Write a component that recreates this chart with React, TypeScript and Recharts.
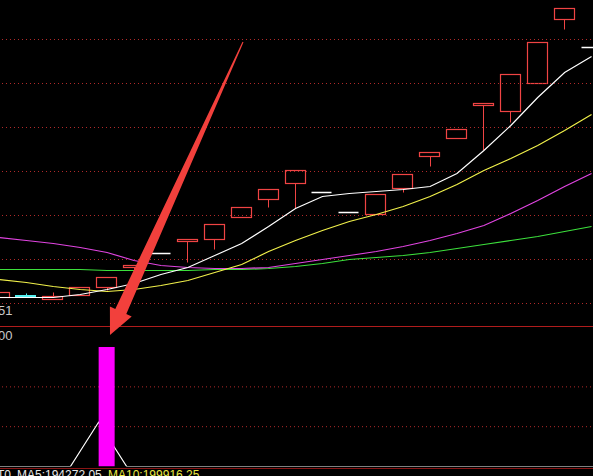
import React from 'react';
import { ComposedChart, Bar, Line, XAxis, YAxis, ReferenceLine } from 'recharts';

// Trading days shown in the window
const days = [
  '02-18', '02-19', '02-20', '02-21', '02-22', '02-25', '02-26', '02-27', '02-28', '03-01',
  '03-04', '03-05', '03-06', '03-07', '03-08', '03-11', '03-12', '03-13', '03-14', '03-15',
  '03-18', '03-19', '03-20',
];

// Daily prices
const opens = [10.57, 10.59, 10.55, 10.59, 10.67, 10.87, 11.01, 11.13, 11.15, 11.37, 11.55, 11.71, 11.62, 11.42, 11.40, 11.66, 11.98, 12.16, 12.49, 12.43, 12.71, 13.35, 13.07];
const closes = [10.62, 10.57, 10.58, 10.67, 10.77, 10.89, 11.01, 11.15, 11.30, 11.47, 11.65, 11.84, 11.62, 11.42, 11.60, 11.80, 12.02, 12.25, 12.51, 12.80, 13.12, 13.46, 13.07];
const highs = [10.62, 10.61, 10.62, 10.67, 10.77, 10.89, 11.01, 11.15, 11.30, 11.47, 11.65, 11.84, 11.62, 11.42, 11.60, 11.80, 12.02, 12.25, 12.51, 12.80, 13.12, 13.46, 13.07];
const lows = [10.57, 10.57, 10.55, 10.59, 10.64, 10.84, 11.01, 10.92, 11.05, 11.37, 11.47, 11.46, 11.62, 11.42, 11.40, 11.62, 11.88, 12.16, 12.04, 12.32, 12.71, 13.25, 13.07];

// Moving averages
const ma5 = [10.57, 10.57, 10.57, 10.60, 10.65, 10.71, 10.80, 10.87, 10.99, 11.11, 11.28, 11.46, 11.58, 11.61, 11.63, 11.65, 11.68, 11.81, 12.04, 12.29, 12.57, 12.82, 12.98];
const ma10 = [10.75, 10.72, 10.68, 10.65, 10.63, 10.65, 10.69, 10.74, 10.82, 10.90, 11.03, 11.14, 11.24, 11.33, 11.40, 11.48, 11.58, 11.70, 11.84, 11.96, 12.09, 12.24, 12.40];
const ma20 = [11.17, 11.14, 11.11, 11.07, 11.02, 10.94, 10.89, 10.87, 10.86, 10.86, 10.87, 10.91, 10.95, 10.99, 11.03, 11.08, 11.14, 11.21, 11.29, 11.41, 11.54, 11.68, 11.81];
const ma60 = [10.85, 10.85, 10.85, 10.85, 10.84, 10.84, 10.84, 10.84, 10.85, 10.85, 10.86, 10.88, 10.91, 10.95, 10.97, 10.99, 11.02, 11.06, 11.10, 11.14, 11.18, 11.23, 11.28];

// Indicator pane
const signal = [0, 0, 0, 0, 100, 0, 0, 0, 0, 0, 0, 0, 0, 0, 0, 0, 0, 0, 0, 0, 0, 0, 0];
const signalTrend = [0, 0, 0, 0, 37, 0, 0, 0, 0, 0, 0, 0, 0, 0, 0, 0, 0, 0, 0, 0, 0, 0, 0];

// Axis settings and labels
const priceDomain = [10.28, 13.54];
const priceGrid = [13.15, 12.71, 12.27, 11.83, 11.39, 10.95, 10.51];
const priceLabel = '10.51';
const signalDomain = [0, 117.2];
const signalGrid = [33.33, 66.67];
const signalLabel = '100.00';
const volumeHead = 'T0';
const volumeMa5 = 'MA5:194272.05';
const volumeMa10 = 'MA10:199916.25';

const rows = days.map((day, i) => ({
  day,
  open: opens[i],
  close: closes[i],
  high: highs[i],
  low: lows[i],
  ma5: ma5[i],
  ma10: ma10[i],
  ma20: ma20[i],
  ma60: ma60[i],
  signal: signal[i],
  signalTrend: signalTrend[i],
}));

const UP = '#f04444';
const DOWN = '#54f0f0';
const GRID = '#b02a2a';

function Candle(props: any) {
  const { x, y, width, height, payload } = props;
  if (x == null || y == null || !payload) return null;
  const { open, close, high, low } = payload;
  const span = high - low;
  const py = (v: number) => (span > 0 ? y + ((high - v) / span) * height : y);
  const left = Math.floor(x) + 0.5;
  const right = Math.floor(x + width) - 0.5;
  const cx = Math.floor(x + width / 2) + 0.5;
  const yHigh = py(high);
  const yLow = py(low);
  if (open === close) {
    const yc = py(close);
    return (
      <g>
        {yLow - yHigh > 0 && <line x1={cx} x2={cx} y1={yHigh} y2={yLow} stroke="#ffffff" />}
        <line x1={left} x2={right} y1={yc} y2={yc} stroke="#ffffff" strokeWidth={1.5} />
      </g>
    );
  }
  const top = py(Math.max(open, close));
  const bottom = py(Math.min(open, close));
  const color = close > open ? UP : DOWN;
  return (
    <g>
      {top > yHigh && <line x1={cx} x2={cx} y1={yHigh} y2={top} stroke={color} />}
      {yLow > bottom && <line x1={cx} x2={cx} y1={bottom} y2={yLow} stroke={color} />}
      {close > open ? (
        <rect x={left} y={top} width={right - left} height={Math.max(bottom - top, 1)} fill="none" stroke={color} strokeWidth={1.2} />
      ) : (
        <rect x={left - 0.5} y={top - 0.5} width={right - left + 1} height={Math.max(bottom - top, 1) + 1} fill={color} />
      )}
    </g>
  );
}

// Pointer annotation: tapered shaft with a head
function Pointer() {
  const pts = [
    [242.5, 41.8],
    [243.5, 42.2],
    [126.3, 313.9],
    [131.7, 316.4],
    [110, 335],
    [109.9, 306.4],
    [115.3, 308.9],
  ];
  return <polygon points={pts.map((p) => p.join(',')).join(' ')} fill="#f2403c" />;
}

const chartLeft = -14;
const chartWidth = 619;
const paneMargin = { top: 2.5, right: 0, bottom: 0, left: 0 };

export default function App() {
  return (
    <div
      style={{
        position: 'absolute',
        left: 0,
        top: 0,
        width: 593,
        height: 476,
        background: '#000000',
        overflow: 'hidden',
      }}
    >
      {/* Price pane */}
      <div style={{ position: 'absolute', left: chartLeft, top: 0 }}>
        <ComposedChart width={chartWidth} height={327} data={rows} margin={{ top: 0.5, right: 0, bottom: 0.5, left: 0 }}>
          <XAxis dataKey="day" type="category" hide />
          <YAxis type="number" domain={priceDomain} allowDataOverflow hide />
          {priceGrid.map((v) => (
            <ReferenceLine key={v} y={v} stroke={GRID} strokeDasharray="1 3" />
          ))}
          <Bar
            dataKey={(d: any) => [d.low, d.high]}
            barSize={21}
            shape={(p: any) => <Candle {...p} />}
            isAnimationActive={false}
          />
          <Line type="linear" dataKey="ma60" stroke="#3ce03c" strokeWidth={1.2} dot={false} isAnimationActive={false} />
          <Line type="linear" dataKey="ma20" stroke="#e044e0" strokeWidth={1.2} dot={false} isAnimationActive={false} />
          <Line type="linear" dataKey="ma10" stroke="#f0f04a" strokeWidth={1.2} dot={false} isAnimationActive={false} />
          <Line type="linear" dataKey="ma5" stroke="#ffffff" strokeWidth={1.2} dot={false} isAnimationActive={false} />
        </ComposedChart>
      </div>
      {/* Indicator pane: trend line underneath, signal column on top */}
      <div style={{ position: 'absolute', left: chartLeft, top: 324 }}>
        <ComposedChart width={chartWidth} height={142.5} data={rows} margin={paneMargin}>
          <XAxis dataKey="day" type="category" hide />
          <YAxis type="number" domain={signalDomain} allowDataOverflow hide />
          <ReferenceLine y={signalDomain[1]} stroke="#b01c1c" />
          {signalGrid.map((v) => (
            <ReferenceLine key={v} y={v} stroke={GRID} strokeDasharray="1 3" />
          ))}
          <Line type="linear" dataKey="signalTrend" stroke="#ffffff" strokeWidth={1.2} dot={false} isAnimationActive={false} />
        </ComposedChart>
      </div>
      <div style={{ position: 'absolute', left: chartLeft, top: 324 }}>
        <ComposedChart width={chartWidth} height={142.5} data={rows} margin={paneMargin}>
          <XAxis dataKey="day" type="category" hide />
          <YAxis type="number" domain={signalDomain} allowDataOverflow hide />
          <Bar dataKey="signal" fill="#ff00ff" barSize={16} isAnimationActive={false} />
        </ComposedChart>
      </div>
      <svg
        width={593}
        height={476}
        style={{ position: 'absolute', left: 0, top: 0, pointerEvents: 'none' }}
        fontFamily="'Liberation Sans', Arial, sans-serif"
      >
        <text x={12.5} y={315} textAnchor="end" fontSize={13} fill="#c8c8c8">{priceLabel}</text>
        <text x={12.5} y={340} textAnchor="end" fontSize={13} fill="#c8c8c8">{signalLabel}</text>
        <line x1={0} x2={593} y1={468.5} y2={468.5} stroke="#8a1414" />
        <text x={11} y={479} textAnchor="end" fontSize={12} fill="#e8e8e8">{volumeHead}</text>
        <text x={17} y={479} fontSize={12} fill="#e8e8e8">{volumeMa5}</text>
        <text x={108} y={479} fontSize={12} fill="#e8e840">{volumeMa10}</text>
        <Pointer />
      </svg>
    </div>
  );
}
